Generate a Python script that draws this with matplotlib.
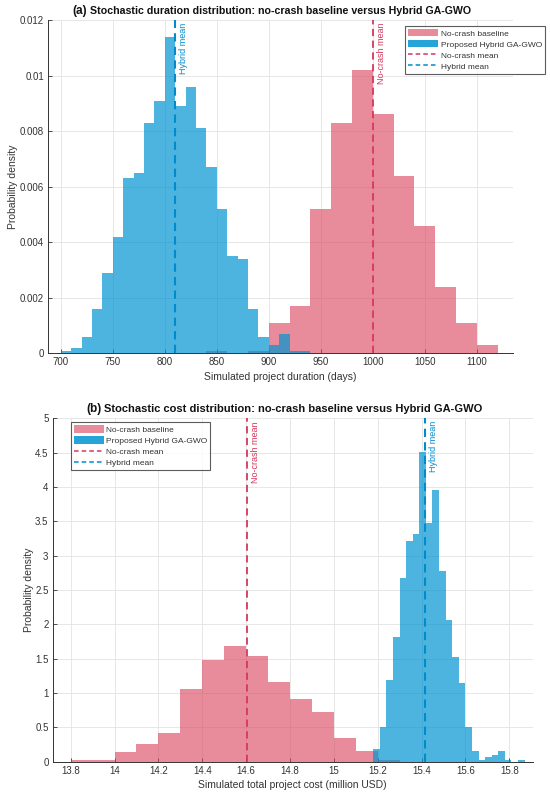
import numpy as np
import matplotlib
matplotlib.use("Agg")
import matplotlib.pyplot as plt
from matplotlib.patches import Patch
from matplotlib.lines import Line2D
import matplotlib.transforms as mtransforms

plt.rcParams['font.family'] = ['Liberation Sans', 'DejaVu Sans']

# ---------------- data ----------------
# (a) duration histograms (probability density)
dur_hybrid_start, dur_hybrid_width = 700, 10
dur_hybrid = [0.0001, 0.0002, 0.0006, 0.0016, 0.0029, 0.0042, 0.0063, 0.0065,
              0.0083, 0.0091, 0.0114, 0.0089, 0.0096, 0.0081, 0.0067, 0.0052,
              0.0035, 0.0034, 0.0016, 0.0006, 0.0003, 0.0007, 0.0001, 0.0001]
dur_base_start, dur_base_width = 840, 20
dur_base = [0.0001, 0.0, 0.0001, 0.0011, 0.0017, 0.0052, 0.0083, 0.0102,
            0.0086, 0.0064, 0.0046, 0.0024, 0.0011, 0.0003]
dur_mean_base = 1000
dur_mean_hybrid = 810

# (b) cost histograms (probability density)
cost_base_start, cost_base_width = 13.8, 0.1
cost_base = [0.02, 0.02, 0.145, 0.256, 0.425, 1.058, 1.483, 1.69, 1.54, 1.155,
             0.918, 0.725, 0.348, 0.16, 0.02]
cost_hybrid_start, cost_hybrid_width = 15.18, 0.03
cost_hybrid = [0.19, 0.50, 1.19, 1.81, 2.68, 3.22, 3.31, 4.51, 3.47, 3.95,
               2.77, 2.07, 1.53, 1.14, 0.50, 0.16, 0.03, 0.07, 0.10, 0.15,
               0.02, 0.0, 0.03]
cost_mean_base = 14.605
cost_mean_hybrid = 15.417

dur_yticks = [0, 0.002, 0.004, 0.006, 0.008, 0.01, 0.012]
dur_yticklabels = ['0', '0.002', '0.004', '0.006', '0.008', '0.01', '0.012']
dur_xticks = [700, 750, 800, 850, 900, 950, 1000, 1050, 1100]
cost_yticks = [0, 0.5, 1, 1.5, 2, 2.5, 3, 3.5, 4, 4.5, 5]
cost_yticklabels = ['0', '0.5', '1', '1.5', '2', '2.5', '3', '3.5', '4', '4.5', '5']
cost_xticks = [13.8, 14, 14.2, 14.4, 14.6, 14.8, 15, 15.2, 15.4, 15.6, 15.8]
cost_xticklabels = ['13.8', '14', '14.2', '14.4', '14.6', '14.8', '15', '15.2', '15.4', '15.6', '15.8']

legend_labels = ['No-crash baseline', 'Proposed Hybrid GA-GWO', 'No-crash mean', 'Hybrid mean']

# ---------------- style ----------------
RED = (0.85, 0.25, 0.35)
BLUE = (0.0, 0.58, 0.82)
RED_LINE = (0.84, 0.22, 0.36)
BLUE_LINE = (0.0, 0.55, 0.80)
TXT = (0.2, 0.2, 0.2)
W, H = 550, 798

fig = plt.figure(figsize=(5.5, 7.98), dpi=100)

def make_axes(l, r, t, b):
    return fig.add_axes([l / W, 1 - b / H, (r - l) / W, (b - t) / H])

def style_axes(ax):
    ax.set_axisbelow(True)
    ax.grid(True, color='#e3e3e3', linewidth=0.6)
    for s in ['top', 'right']:
        ax.spines[s].set_visible(False)
    for s in ['left', 'bottom']:
        ax.spines[s].set_color(TXT)
        ax.spines[s].set_linewidth(0.7)
    ax.tick_params(direction='in', length=3, width=0.6, colors=TXT,
                   labelsize=7, pad=3)

def draw(ax, start_b, width_b, vals_b, start_h, width_h, vals_h, mb, mh):
    eb = start_b + width_b * np.arange(len(vals_b))
    eh = start_h + width_h * np.arange(len(vals_h))
    ax.bar(eb, vals_b, width=width_b, align='edge', color=RED, alpha=0.6,
           linewidth=0)
    ax.bar(eh, vals_h, width=width_h, align='edge', color=BLUE, alpha=0.7,
           linewidth=0)
    ax.axvline(mb, color=RED_LINE, linestyle=(0, (4, 2.5)), linewidth=1.3)
    ax.axvline(mh, color=BLUE_LINE, linestyle=(0, (4, 2.5)), linewidth=1.5)
    trans = mtransforms.blended_transform_factory(ax.transData, ax.transAxes)
    ax.annotate('No-crash mean', xy=(mb, 1), xycoords=trans, xytext=(3, -2),
                textcoords='offset points', rotation=90, ha='left', va='top',
                fontsize=6.5, color=RED_LINE)
    ax.annotate('Hybrid mean', xy=(mh, 1), xycoords=trans, xytext=(3, -2),
                textcoords='offset points', rotation=90, ha='left', va='top',
                fontsize=6.5, color=BLUE_LINE)

def add_legend(anchor, loc):
    handles = [Patch(facecolor=RED, alpha=0.6, edgecolor='none'),
               Patch(facecolor=BLUE, alpha=0.85, edgecolor='none'),
               Line2D([], [], color=RED_LINE, linestyle=(0, (3, 2)), linewidth=1.1),
               Line2D([], [], color=BLUE_LINE, linestyle=(0, (3, 2)), linewidth=1.1)]
    leg = fig.legend(handles, legend_labels, loc=loc, bbox_to_anchor=anchor,
                     bbox_transform=fig.transFigure, fontsize=6,
                     frameon=True, fancybox=False, handlelength=3.6,
                     handleheight=1.0, labelspacing=0.3, handletextpad=0.3,
                     borderpad=0.35, borderaxespad=0)
    leg.get_frame().set_edgecolor('#333333')
    leg.get_frame().set_linewidth(0.8)
    for t in leg.get_texts():
        t.set_color(TXT)

def add_title(x, y, tag, text, size):
    t1 = fig.text(x, y, tag, fontsize=8.5, fontweight='bold', color='#111111',
                  ha='left', va='baseline')
    fig.canvas.draw()
    bb = t1.get_window_extent(renderer=fig.canvas.get_renderer())
    x2 = bb.x1 / fig.bbox.width + 3 / W
    fig.text(x2, y, text, fontsize=size, fontweight='bold', color='#111111',
             ha='left', va='baseline')

# ---------------- (a) ----------------
ax1 = make_axes(48.3, 512.7, 20, 353.3)
style_axes(ax1)
draw(ax1, dur_base_start, dur_base_width, dur_base,
     dur_hybrid_start, dur_hybrid_width, dur_hybrid, dur_mean_base, dur_mean_hybrid)
ax1.set_xlim(688, 1134.6)
ax1.set_ylim(0, 0.012)
ax1.set_xticks(dur_xticks)
ax1.set_yticks(dur_yticks)
ax1.set_yticklabels(dur_yticklabels)
ax1.set_xlabel('Simulated project duration (days)', fontsize=7.5, color=TXT, labelpad=3)
ax1.set_ylabel('Probability density', fontsize=7.5, color=TXT, labelpad=1)
add_legend((545 / W, 1 - 26 / H), 'upper right')

# ---------------- (b) ----------------
ax2 = make_axes(52.7, 532.7, 418.3, 761.7)
style_axes(ax2)
draw(ax2, cost_base_start, cost_base_width, cost_base,
     cost_hybrid_start, cost_hybrid_width, cost_hybrid, cost_mean_base, cost_mean_hybrid)
ax2.set_xlim(13.718, 15.907)
ax2.set_ylim(0, 5)
ax2.set_xticks(cost_xticks)
ax2.set_xticklabels(cost_xticklabels)
ax2.set_yticks(cost_yticks)
ax2.set_yticklabels(cost_yticklabels)
ax2.set_xlabel('Simulated total project cost (million USD)', fontsize=7.5, color=TXT, labelpad=3)
ax2.set_ylabel('Probability density', fontsize=7.5, color=TXT, labelpad=1)
add_legend((70.7 / W, 1 - 422.3 / H), 'upper left')

add_title(72 / W, 1 - 14 / H, '(a)', 'Stochastic duration distribution: no-crash baseline versus Hybrid GA-GWO', 7.7)
add_title(86 / W, 1 - 412 / H, '(b)', 'Stochastic cost distribution: no-crash baseline versus Hybrid GA-GWO', 8.0)

fig.savefig('out.png', dpi=100)
